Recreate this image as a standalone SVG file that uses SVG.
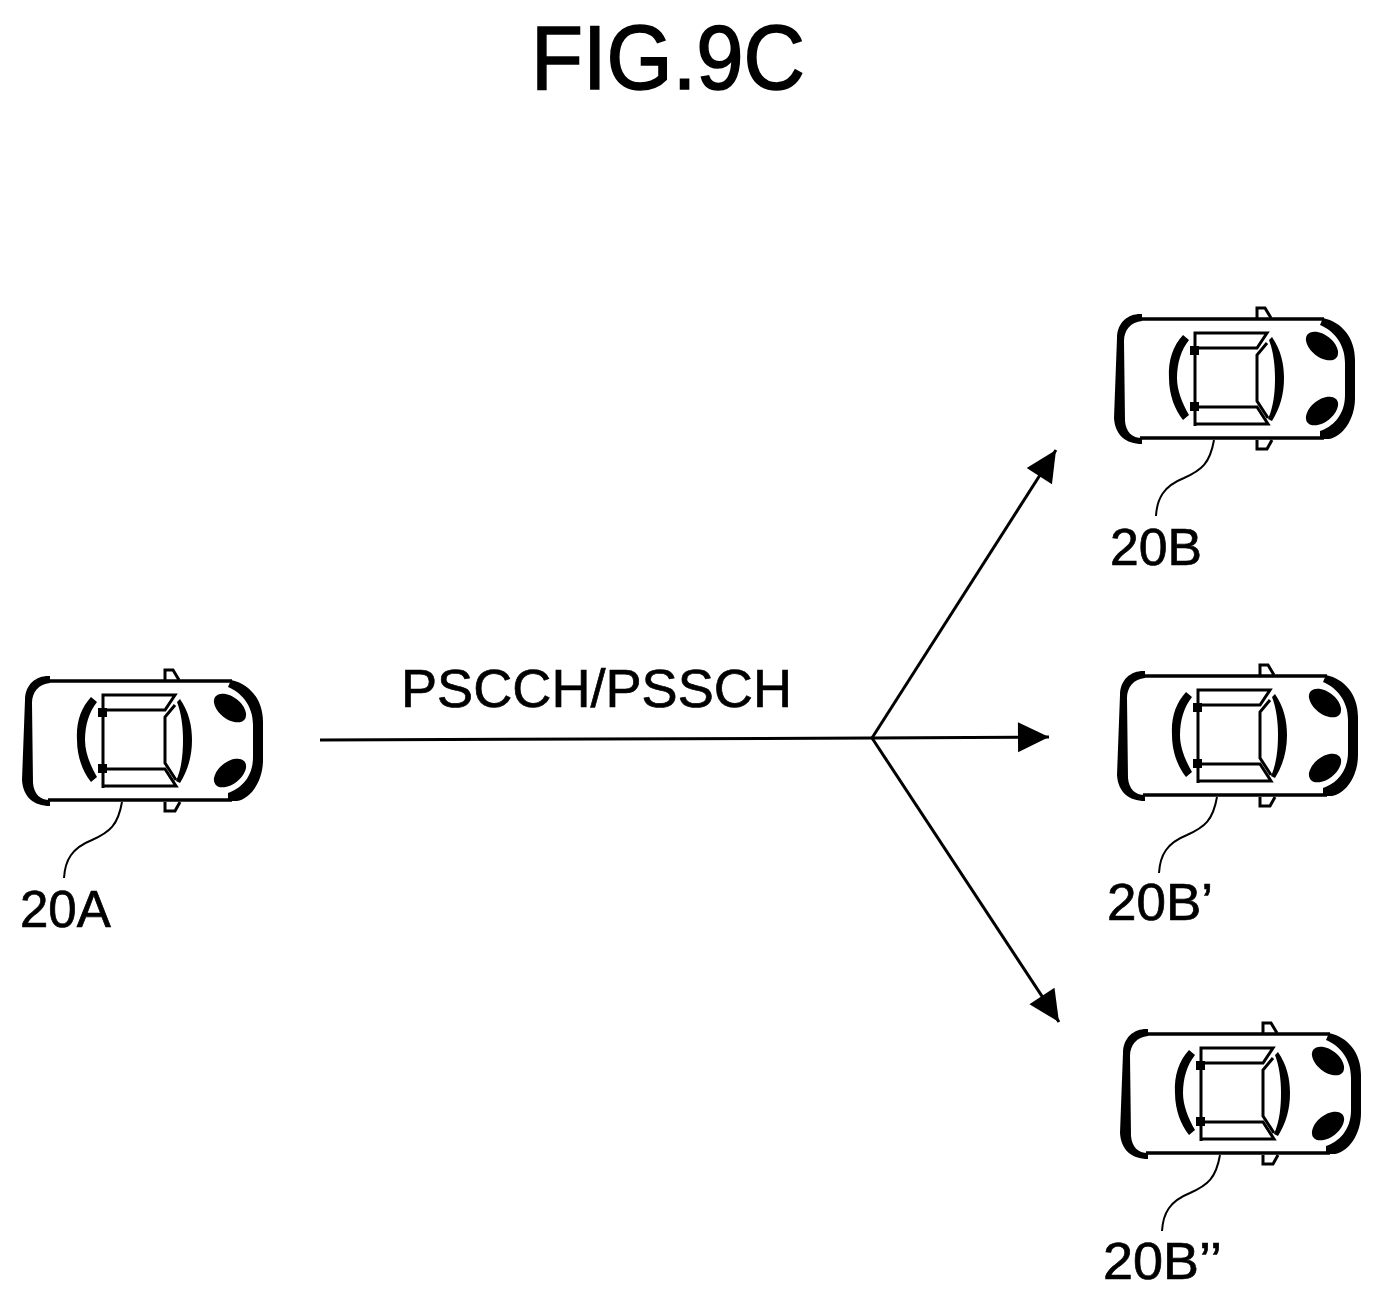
<svg xmlns="http://www.w3.org/2000/svg" width="1382" height="1302" viewBox="0 0 1382 1302">
<style>
text{font-family:"Liberation Sans",Arial,sans-serif;fill:#000;stroke:#000}
.lbl{font-size:51px;stroke-width:.7px}
.thin{fill:none;stroke:#000;stroke-width:3}
.lead{fill:none;stroke:#000;stroke-width:2}
.med{fill:none;stroke:#000;stroke-width:3.5}
.conn{fill:none;stroke:#000;stroke-width:3}
</style>
<defs>
<g id="car">
<path class="med" d="M48 681H232M48 800H232"/>
<path d="M50 676C38 675 25 683 25 700L22 780C23 797 34 806 50 806L50 800C40 800 34 794 33 783L32 703C32 692 39 684 50 683Z"/>
<path d="M231 680C250 684 263 700 263 722L263 760C263 782 250 799 237 801L228 801L228 793C240 789 253 778 253 757L253 725C253 704 240 692 228 687Z"/>
<ellipse cx="230" cy="708" rx="18.5" ry="11" transform="rotate(38 230 708)"/>
<ellipse cx="230" cy="773" rx="18.5" ry="11" transform="rotate(-38 230 773)"/>
<path d="M91 697C81 708 76 722 77 740C77 757 83 772 91 782L97 777C90 765 85 752 85 740C85 725 89 712 97 702Z"/>
<path d="M180 699C189 712 192 726 192 740C192 756 188 770 180 783L176 781C182 768 183 752 183 740C183 726 181 712 177 702Z"/>
<path class="thin" d="M103 788V695H175L165 710H103M103 769H165L176 786H103"/>
<path class="thin" d="M175 705L165 717V763L176 780"/>
<rect x="98" y="708" width="9" height="9"/>
<rect x="98" y="764" width="9" height="9"/>
<path class="thin" d="M165 680V670H173L179 680M165 802V811H175L180 802"/>
</g>
<marker id="ah" markerUnits="userSpaceOnUse" markerWidth="40" markerHeight="40" viewBox="-36 -20 40 40" refX="0" refY="0" orient="auto">
<polygon points="0,0 -31,-15 -31,15"/>
</marker>
</defs>
<g id="title"><text x="531" y="89" font-size="90" stroke-width="1.6" textLength="274" lengthAdjust="spacingAndGlyphs">FIG.9C</text></g>
<g id="connectors">
<path class="conn" d="M320 740L872 738L1049 737" marker-end="url(#ah)"/>
<path class="conn" d="M872 738L1056 450" marker-end="url(#ah)"/>
<path class="conn" d="M872 738L1059 1022" marker-end="url(#ah)"/>
</g>
<g id="link-label"><text x="401" y="707" font-size="54" stroke-width=".7" textLength="391" lengthAdjust="spacingAndGlyphs">PSCCH/PSSCH</text></g>
<g id="node-20A">
<use href="#car"/>
<path class="lead" d="M122 802C118 825 110 832 92 840C72 848 65 860 64 878"/>
<text class="lbl" x="20" y="927">20A</text>
</g>
<g id="node-20B">
<use href="#car" x="1092" y="-362"/>
<path class="lead" d="M1214 440C1210 463 1202 470 1184 478C1164 486 1157 498 1156 516"/>
<text class="lbl" x="1110" y="565" textLength="92" lengthAdjust="spacingAndGlyphs">20B</text>
</g>
<g id="node-20B-prime">
<use href="#car" x="1095" y="-5"/>
<path class="lead" d="M1217 797C1213 820 1205 827 1187 835C1167 843 1160 855 1159 873"/>
<text class="lbl" x="1107" y="920" textLength="106" lengthAdjust="spacingAndGlyphs">20B’</text>
</g>
<g id="node-20B-double-prime">
<use href="#car" x="1098" y="353"/>
<path class="lead" d="M1220 1155C1216 1178 1208 1185 1190 1193C1170 1201 1163 1213 1162 1231"/>
<text class="lbl" x="1103" y="1279" textLength="119" lengthAdjust="spacingAndGlyphs">20B’’</text>
</g>
</svg>
